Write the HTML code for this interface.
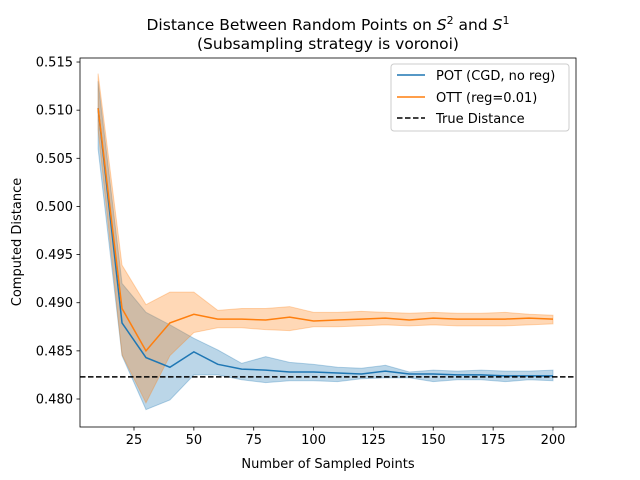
<!DOCTYPE html>
<html><head><meta charset="utf-8"><style>
body{margin:0;background:#fff;}
svg{display:block;font-family:"DejaVu Sans","Liberation Sans",sans-serif;}
</style></head><body>
<svg id="chart" width="640" height="480">
<text x="328" y="30" text-anchor="middle" font-size="15.5">Distance Between Random Points on <tspan font-style="italic">S</tspan><tspan dy="-6" font-size="11">2</tspan><tspan dy="6"> and </tspan><tspan font-style="italic">S</tspan><tspan dy="-6" font-size="11">1</tspan></text>
<text x="328" y="49" text-anchor="middle" font-size="15.5">(Subsampling strategy is voronoi)</text>
<text x="328" y="468" text-anchor="middle" font-size="13">Number of Sampled Points</text>
<text transform="translate(21,242) rotate(-90)" text-anchor="middle" font-size="13">Computed Distance</text>
<g id="plot"></g>
<g id="legend">
<rect x="391" y="64" width="178" height="67" rx="3" fill="#fff" fill-opacity="0.8" stroke="#ccc"/>
<line x1="397" y1="75" x2="425" y2="75" stroke="#1f77b4" stroke-width="1.5"/>
<text x="436" y="80" font-size="13">POT (CGD, no reg)</text>
<line x1="397" y1="97" x2="425" y2="97" stroke="#ff7f0e" stroke-width="1.5"/>
<text x="436" y="102" font-size="13">OTT (reg=0.01)</text>
<line x1="397" y1="118" x2="425" y2="118" stroke="#000" stroke-width="1.5" stroke-dasharray="5.5,2.5"/>
<text x="436" y="123" font-size="13">True Distance</text>
</g>
</svg>
<script>
const xs=[10,20,30,40,50,60,70,80,90,100,110,120,130,140,150,160,170,180,190,200];
const potMean=[0.5102,0.4879,0.4843,0.4833,0.4849,0.4836,0.4831,0.4830,0.4828,0.4828,0.4827,0.4826,0.4829,0.4826,0.4826,0.4825,0.4825,0.4824,0.4824,0.4824];
const potLow=[0.5060,0.4845,0.4789,0.4799,0.4825,0.4825,0.4820,0.4817,0.4819,0.4819,0.4818,0.4821,0.4822,0.4822,0.4818,0.4820,0.4820,0.4818,0.4820,0.4819];
const potHigh=[0.5130,0.4920,0.4890,0.4877,0.4863,0.4851,0.4837,0.4844,0.4838,0.4836,0.4833,0.4832,0.4835,0.4828,0.4830,0.4829,0.4830,0.4829,0.4829,0.4830];
const ottMean=[0.5102,0.4894,0.4850,0.4879,0.4888,0.4883,0.4883,0.4882,0.4885,0.4881,0.4882,0.4883,0.4884,0.4882,0.4884,0.4883,0.4883,0.4883,0.4884,0.4883];
const ottLow=[0.5080,0.4846,0.4796,0.4845,0.4869,0.4874,0.4874,0.4872,0.4871,0.4875,0.4875,0.4876,0.4877,0.4876,0.4877,0.4876,0.4876,0.4876,0.4877,0.4878];
const ottHigh=[0.5138,0.4939,0.4898,0.4911,0.4911,0.4892,0.4894,0.4894,0.4896,0.4890,0.4890,0.4891,0.4890,0.4889,0.4890,0.4889,0.4889,0.4890,0.4888,0.4887];
const trueDist=0.4823;
const xTicks=[25,50,75,100,125,150,175,200];
const yTicks=[0.480,0.485,0.490,0.495,0.500,0.505,0.510,0.515];
const L=80,R=576,T=58,B=427;
const X=v=>134+(v-25)*(553-134)/175;
const Y=v=>399-(v-0.48)/0.005*48.14;
const NS="http://www.w3.org/2000/svg";
const g=document.getElementById('plot');
function mk(t,a){const e=document.createElementNS(NS,t);for(const k in a)e.setAttribute(k,a[k]);g.appendChild(e);return e;}
function band(lo,hi,col,name){
 let d=xs.map((x,i)=>(i?'L':'M')+X(x)+','+Y(hi[i])).join('');
 for(let i=xs.length-1;i>=0;i--)d+='L'+X(xs[i])+','+Y(lo[i]);
 const e=mk('path',{d:d+'Z',fill:col,'fill-opacity':0.3,stroke:col,'stroke-opacity':0.3});
 
 
}
function line(m,col,name){
 const e=mk('path',{d:xs.map((x,i)=>(i?'L':'M')+X(x)+','+Y(m[i])).join(''),fill:'none',stroke:col,'stroke-width':1.5});
 
 
}
band(potLow,potHigh,'#1f77b4','pot-band');
band(ottLow,ottHigh,'#ff7f0e','ott-band');
line(potMean,'#1f77b4','pot-line');
line(ottMean,'#ff7f0e','ott-line');
const tl=mk('line',{x1:L,x2:R,y1:Y(trueDist),y2:Y(trueDist),stroke:'#000','stroke-width':1.5,'stroke-dasharray':'5.5,2.5'});


const fr=mk('rect',{x:L,y:T,width:R-L,height:B-T,fill:'none',stroke:'#000','stroke-width':0.8});


xTicks.forEach(t=>{
 mk('line',{x1:X(t),x2:X(t),y1:B,y2:B+3.5,stroke:'#000','stroke-width':0.8});
 const e=mk('text',{x:X(t),y:B+17,'text-anchor':'middle','font-size':13});
 e.textContent=t;
 
 
});
yTicks.forEach(t=>{
 mk('line',{x1:L-3.5,x2:L,y1:Y(t),y2:Y(t),stroke:'#000','stroke-width':0.8});
 const e=mk('text',{x:L-7,y:Y(t)+4.5,'text-anchor':'end','font-size':13});
 e.textContent=t.toFixed(3);
 
 
});
</script>
</body></html>
